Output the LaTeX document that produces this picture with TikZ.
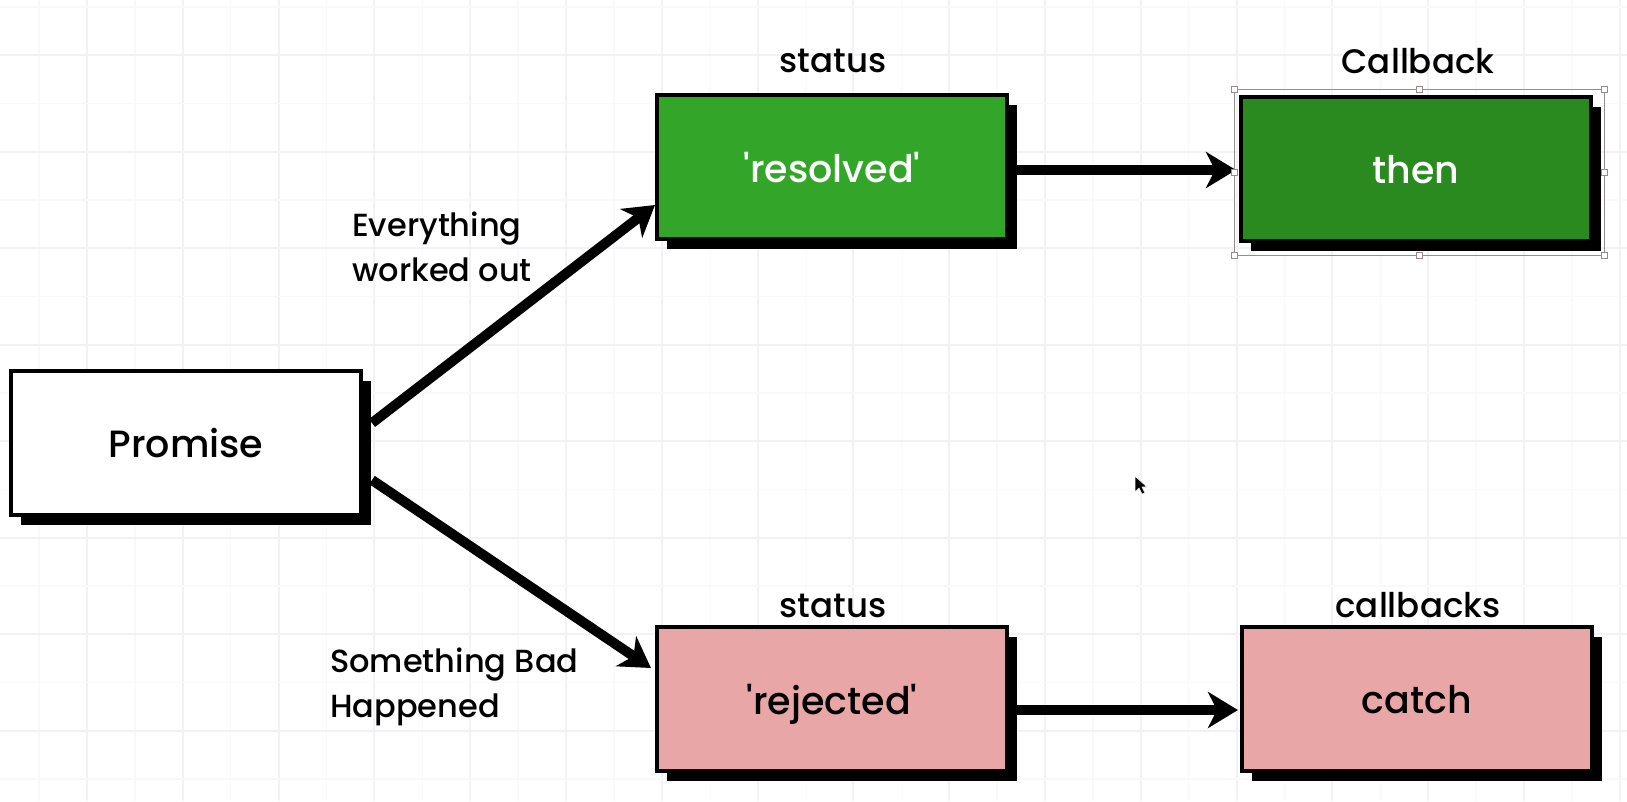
\documentclass[tikz,border=0pt]{standalone}
\usepackage{fontspec}
\setmainfont{Poppins Medium}
\usetikzlibrary{arrows.meta,shadows,calc}
\definecolor{resgreen}{RGB}{51,165,41}
\definecolor{thengreen}{RGB}{42,138,32}
\definecolor{rejpink}{RGB}{232,166,166}
\definecolor{gridmajor}{RGB}{240,242,245}
\definecolor{gridminor}{RGB}{248,249,250}
\definecolor{selgray}{RGB}{150,140,140}
\tikzset{
  box/.style={draw=black, line width=4pt, minimum width=350pt, minimum height=144pt,
    inner sep=0pt, text depth=0pt, font=\fontsize{38}{46}\selectfont,
    drop shadow={shadow xshift=10pt, shadow yshift=-10pt, opacity=1, fill=black}},
  toplabel/.style={inner sep=0pt, font=\fontsize{34}{40}\selectfont},
  sidelabel/.style={inner sep=0pt, align=left, font=\fontsize{32}{45}\selectfont},
  arr/.style={line width=10pt, -{Stealth[length=30pt, width=36pt, inset=9pt]}},
  handle/.style={draw=selgray, fill=white, line width=0.8pt, minimum size=6pt, inner sep=0pt},
}
\begin{document}
\begin{tikzpicture}[x=1pt, y=-1pt]
\useasboundingbox (0,0) rectangle (1627,801);
\fill[white] (0,0) rectangle (1627,801);
% grid
\foreach \k in {0,...,16} {
  \draw[gridminor, line width=1.5pt] ({39.1+95.8*\k},0) -- ++(0,801);
  \draw[gridmajor, line width=2pt] ({87+95.8*\k},0) -- ++(0,801);
}
\foreach \k in {0,...,8} {
  \draw[gridminor, line width=1.5pt] (0,{7+96.5*\k}) -- ++(1627,0);
  \draw[gridmajor, line width=2pt] (0,{55+96.5*\k}) -- ++(1627,0);
}
% boxes
\node[box, fill=white] (promise) at (186,443) {Promise};
\node[box, fill=resgreen, text=white] (res) at (832,167) {\textquotesingle resolved\textquotesingle};
\node[box, fill=thengreen, text=white] (then) at (1416,169) {then};
\node[box, fill=rejpink] (rej) at (832,699) {\textquotesingle rejected\textquotesingle};
\node[box, fill=rejpink] (catch) at (1417,699) {catch};
% top labels
\node[toplabel, anchor=base] (s1) at (833,72) {status};
\node[toplabel, anchor=base] (cb1) at (1418,73) {Callback};
\node[toplabel, anchor=base] (s2) at (833,617) {status};
\node[toplabel, anchor=base] (cb2) at (1418,617) {callbacks};
% side labels
\node[sidelabel, anchor=north west] (ok) at (352,212) {Everything\\worked out};
\node[sidelabel, anchor=north west] (bad) at (330,648) {Something Bad\\Happened};
% arrows
\draw[arr] ([shift={(9,-20)}]promise.east) -- ([shift={(0,38)}]res.west);
\draw[arr] ([shift={(9,37)}]promise.east) -- ([shift={(-4,-31)}]rej.west);
\draw[arr] ([shift={(8,3)}]res.east) -- ([shift={(-3,1)}]then.west);
\draw[arr] ([shift={(8,11)}]rej.east) -- ([shift={(-2,11)}]catch.west);
% selection frame on "then"
\coordinate (selnw) at ([shift={(-5,-6)}]then.north west);
\coordinate (selse) at ([shift={(11,12)}]then.south east);
\draw[selgray, line width=1pt] (selnw) rectangle (selse);
\foreach \px in {0,0.5,1} {
  \node[handle] at ($(selnw)!\px!(selnw -| selse)$) {};
  \node[handle] at ($(selse -| selnw)!\px!(selse)$) {};
}
\node[handle] at ($(selnw)!0.5!(selse -| selnw)$) {};
\node[handle] at ($(selnw -| selse)!0.5!(selse)$) {};
% mouse cursor
\filldraw[fill=black, draw=white, line width=0.6pt, line join=round]
  (1135,476) -- (1135,492) -- (1139,488) -- (1142,494) -- (1145,493) -- (1142,487) -- (1147,487) -- cycle;
\end{tikzpicture}
\end{document}
